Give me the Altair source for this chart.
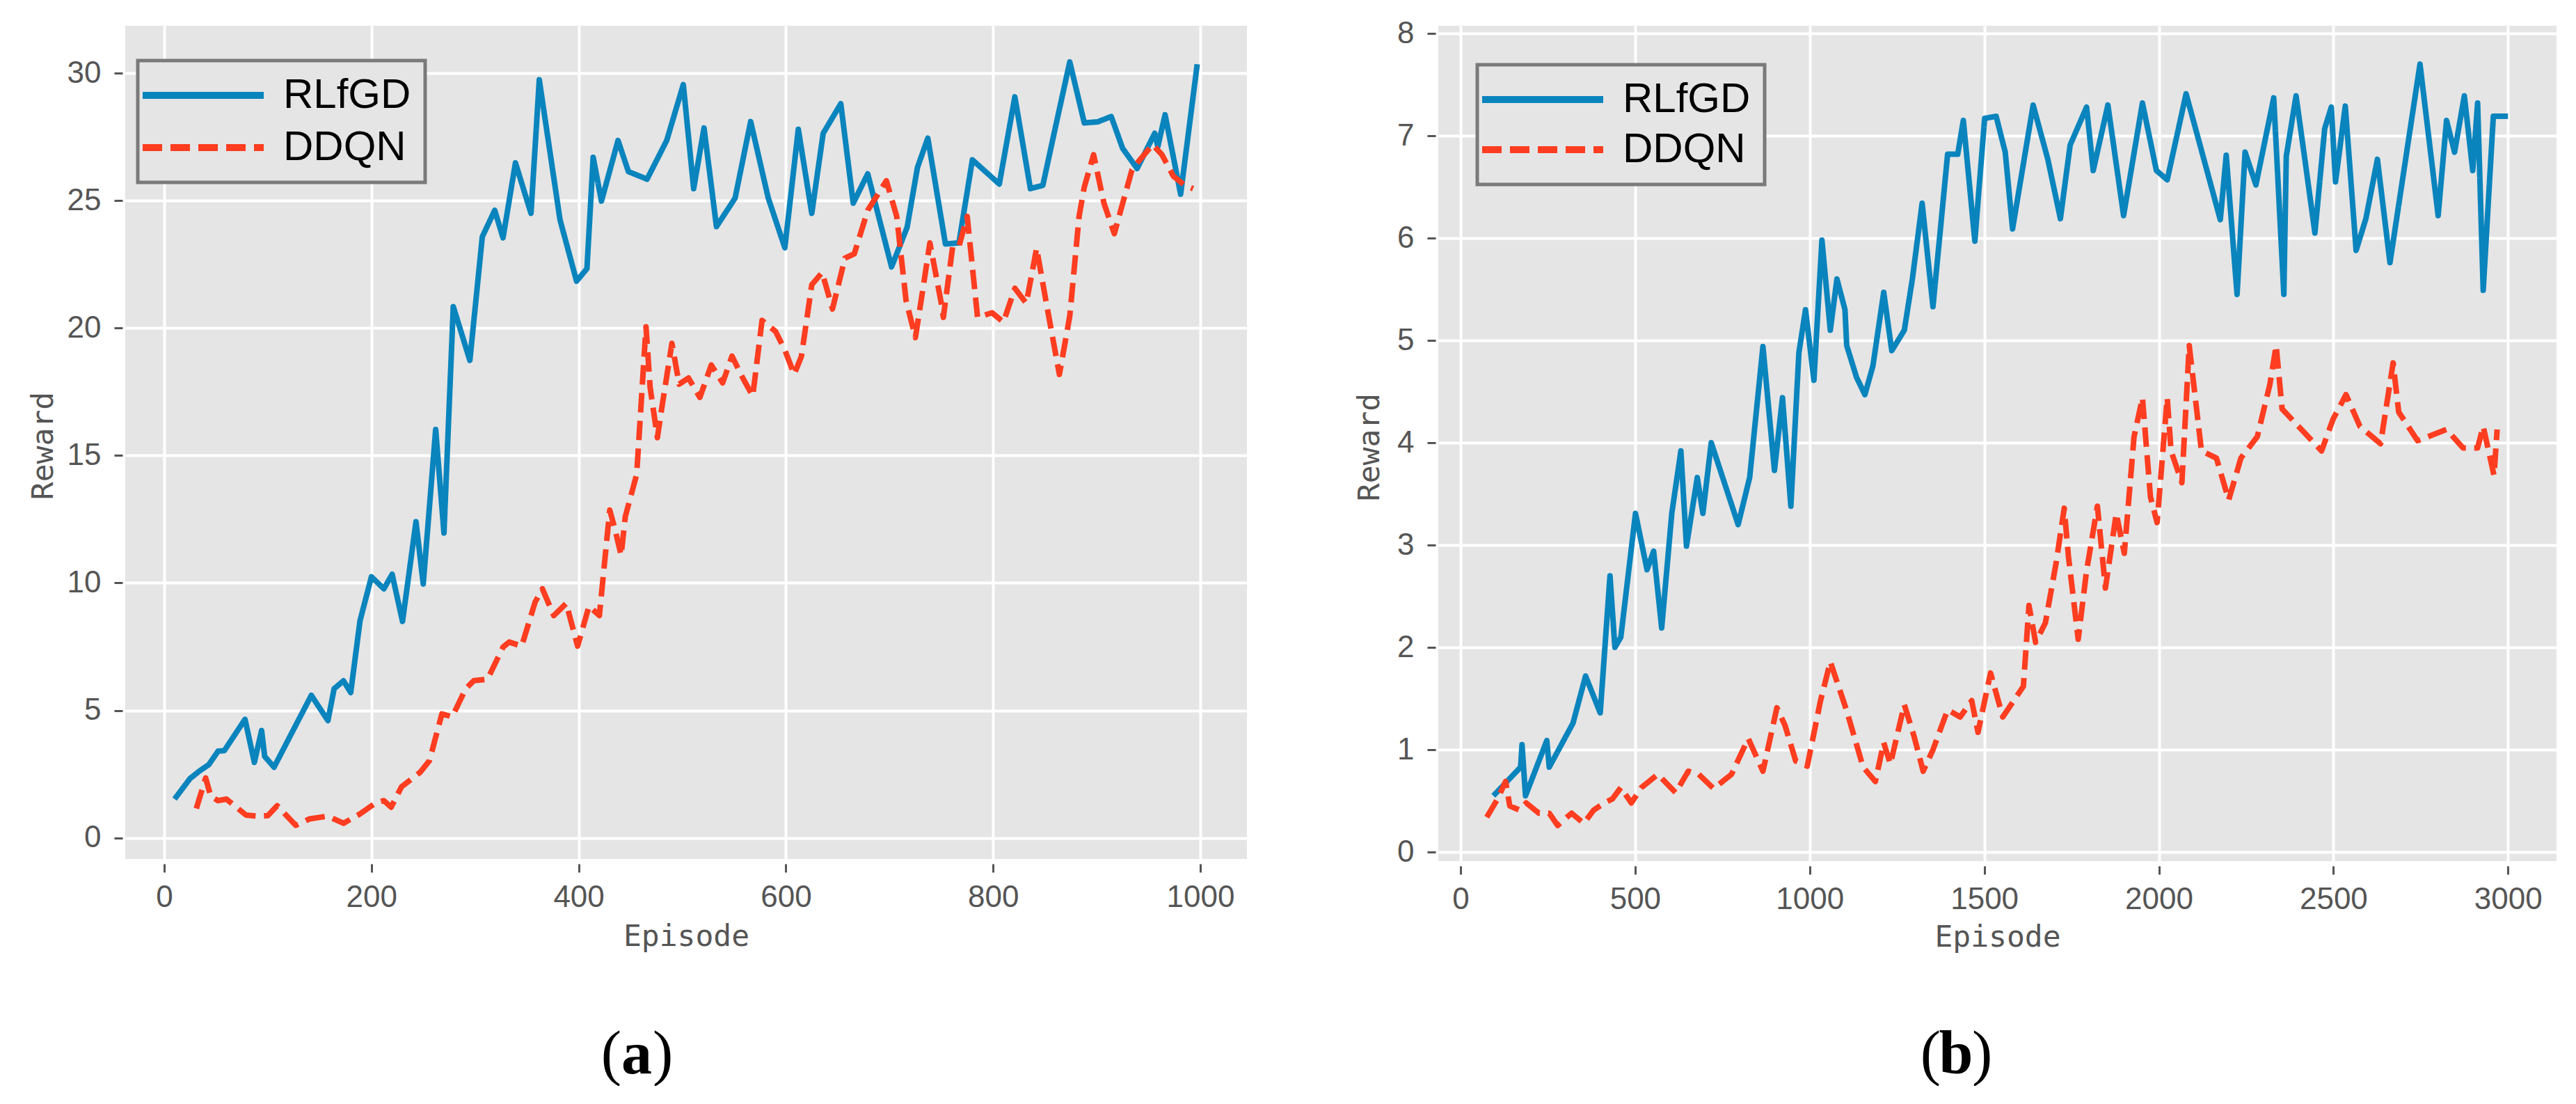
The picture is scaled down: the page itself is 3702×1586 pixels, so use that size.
import altair as alt
import pandas as pd

# ---------------- Panel (a) data ----------------
a_rl_ep = [10, 25, 35, 43, 52, 58, 78, 87, 94, 97, 106, 126, 142, 158, 164, 173, 180, 189, 200, 212,
           220, 230, 243, 250, 262, 270, 279, 295, 307, 319, 327, 339, 354, 362, 382, 398, 408, 414, 422, 438,
           448, 466, 485, 501, 511, 521, 533, 551, 566, 583, 599, 612, 625, 636, 653, 665, 679, 702, 717, 727,
           737, 754, 767, 780, 806, 821, 836, 848, 860, 874, 888, 901, 914, 925, 939, 956, 959, 966, 981, 997]
a_rl_val = [1.52, 2.33, 2.65, 2.87, 3.40, 3.42, 4.65, 2.96, 4.21, 3.19, 2.77, 4.34, 5.59, 4.60, 5.85, 6.16, 5.70, 8.52, 10.24, 9.77,
            10.34, 8.49, 12.40, 9.96, 16.02, 11.96, 20.84, 18.73, 23.58, 24.62, 23.54, 26.48, 24.50, 29.74, 24.25, 21.84, 22.33, 26.70, 24.98, 27.36,
            26.14, 25.84, 27.36, 29.55, 25.47, 27.85, 23.98, 25.10, 28.10, 25.10, 23.15, 27.80, 24.50, 27.64, 28.80, 24.90, 26.05, 22.40, 23.95, 26.30,
            27.45, 23.30, 23.34, 26.60, 25.65, 29.07, 25.47, 25.60, 27.85, 30.44, 28.05, 28.09, 28.30, 27.05, 26.26, 27.64, 27.12, 28.37, 25.25, 30.35]

a_dd_ep = [31, 40, 45, 52, 60, 79, 91, 100, 109, 127, 140, 158, 173, 189, 204, 212, 219, 229, 247, 256,
           268, 278, 291, 299, 312, 327, 333, 345, 358, 365, 376, 388, 399, 410, 420, 430, 435, 441, 445, 456,
           465, 469, 476, 480, 490, 497, 506, 517, 528, 539, 548, 557, 568, 577, 590, 599, 608, 615, 625, 635,
           645, 657, 666, 679, 697, 707, 716, 725, 731, 739, 750, 752, 761, 767, 775, 785, 799, 810, 821, 832,
           842, 852, 864, 874, 883, 888, 897, 907, 917, 924, 934, 941, 954, 963, 974, 985, 993]
a_dd_val = [1.15, 2.35, 1.62, 1.46, 1.52, 0.89, 0.85, 0.87, 1.26, 0.49, 0.74, 0.85, 0.57, 0.94, 1.37, 1.46, 1.20, 2.00, 2.57, 3.03,
            4.86, 4.75, 5.85, 6.17, 6.22, 7.48, 7.68, 7.52, 9.25, 9.77, 8.72, 9.20, 7.52, 9.09, 8.72, 12.86, 12.12, 11.08, 12.60, 14.26,
            20.05, 17.67, 15.70, 16.80, 19.40, 17.80, 18.04, 17.28, 18.55, 17.85, 18.90, 18.15, 17.33, 20.30, 19.87, 19.14, 18.18, 18.89, 21.70, 22.18,
            20.75, 22.74, 22.91, 24.62, 25.78, 24.38, 21.08, 19.63, 21.20, 23.34, 20.97, 20.42, 23.20, 23.20, 24.38, 20.42, 20.60, 20.23, 21.56, 20.97,
            23.13, 20.84, 18.18, 20.47, 24.38, 25.53, 26.80, 24.90, 23.70, 24.74, 26.20, 26.57, 27.20, 26.80, 25.96, 25.60, 25.47]

# ---------------- Panel (b) data ----------------
b_rl_ep = [94, 172, 176, 186, 247, 254, 322, 358, 400, 428, 442, 459, 501, 534, 553, 576, 605, 631, 647, 678,
           694, 718, 795, 828, 866, 899, 922, 946, 969, 988, 1012, 1035, 1059, 1078, 1101, 1106, 1134, 1158, 1181, 1212,
           1235, 1271, 1294, 1322, 1353, 1395, 1424, 1440, 1473, 1501, 1534, 1560, 1581, 1640, 1682, 1718, 1746, 1793, 1812, 1854,
           1899, 1953, 1993, 2024, 2078, 2176, 2193, 2224, 2247, 2278, 2329, 2358, 2365, 2393, 2419, 2447, 2475, 2494, 2506, 2534,
           2565, 2593, 2626, 2662, 2748, 2800, 2824, 2847, 2875, 2899, 2913, 2929, 2958, 3000]
b_rl_val = [0.55, 0.83, 1.05, 0.55, 1.09, 0.83, 1.26, 1.72, 1.36, 2.70, 2.00, 2.10, 3.31, 2.76, 2.94, 2.19, 3.31, 3.92, 2.99, 3.66,
            3.31, 4.00, 3.20, 3.66, 4.94, 3.73, 4.44, 3.38, 4.88, 5.30, 4.61, 5.98, 5.10, 5.60, 5.30, 4.95, 4.64, 4.47, 4.75, 5.47,
            4.90, 5.10, 5.60, 6.34, 5.33, 6.82, 6.82, 7.15, 5.97, 7.17, 7.19, 6.84, 6.09, 7.30, 6.77, 6.19, 6.91, 7.28, 6.66, 7.30,
            6.22, 7.32, 6.66, 6.57, 7.41, 6.18, 6.81, 5.45, 6.84, 6.52, 7.37, 5.45, 6.80, 7.39, 6.75, 6.05, 7.07, 7.28, 6.55, 7.29,
            5.88, 6.19, 6.77, 5.76, 7.70, 6.22, 7.15, 6.84, 7.39, 6.66, 7.32, 5.49, 7.19, 7.19]

b_dd_ep = [75, 106, 129, 141, 169, 188, 224, 254, 278, 318, 353, 381, 412, 435, 459, 489, 518, 565, 616, 652,
           682, 725, 776, 824, 866, 906, 929, 960, 993, 1031, 1059, 1106, 1153, 1188, 1212, 1231, 1271, 1299, 1325, 1353,
           1395, 1431, 1464, 1482, 1518, 1553, 1612, 1628, 1647, 1675, 1706, 1729, 1741, 1769, 1793, 1824, 1847, 1878, 1901, 1929,
           1953, 1976, 1995, 2024, 2035, 2066, 2087, 2122, 2165, 2200, 2235, 2282, 2318, 2336, 2353, 2400, 2466, 2499, 2536, 2576,
           2635, 2671, 2687, 2741, 2824, 2871, 2913, 2929, 2960, 2969]
b_dd_val = [0.34, 0.52, 0.69, 0.45, 0.41, 0.48, 0.38, 0.38, 0.26, 0.38, 0.28, 0.41, 0.48, 0.52, 0.63, 0.48, 0.63, 0.76, 0.58, 0.79,
            0.76, 0.62, 0.76, 1.11, 0.79, 1.41, 1.24, 0.89, 0.84, 1.48, 1.86, 1.38, 0.83, 0.69, 1.07, 0.86, 1.44, 1.13, 0.79, 1.00,
            1.39, 1.32, 1.48, 1.17, 1.75, 1.32, 1.62, 2.41, 2.05, 2.24, 2.83, 3.36, 2.89, 2.08, 2.75, 3.38, 2.58, 3.31, 2.92, 4.06,
            4.44, 3.47, 3.22, 4.44, 3.92, 3.61, 4.95, 3.92, 3.85, 3.44, 3.85, 4.06, 4.57, 4.95, 4.33, 4.16, 3.92, 4.23, 4.47, 4.16,
            3.99, 4.78, 4.30, 4.02, 4.13, 3.95, 3.95, 4.16, 3.68, 4.13]

methods = ["RLfGD", "DDQN"]
a_xticks = [0, 200, 400, 600, 800, 1000]
a_yticks = [0, 5, 10, 15, 20, 25, 30]
b_xticks = [0, 500, 1000, 1500, 2000, 2500, 3000]
b_yticks = [0, 1, 2, 3, 4, 5, 6, 7, 8]

BLUE = "#0A84BD"
RED = "#FF3D20"
GRAY_TXT = "#555555"


def panel(rl_ep, rl_val, dd_ep, dd_val, xdom, ydom, xticks, yticks, w, h,
          lx, ly, row_pad, ytx, yty, xty, letter, letter_x, extra=None):
    df = pd.DataFrame({
        "Episode": rl_ep + dd_ep,
        "Reward": rl_val + dd_val,
        "Method": [methods[0]] * len(rl_ep) + [methods[1]] * len(dd_ep),
    })
    leg = alt.Legend(
        title=None, orient="none", legendX=lx, legendY=ly,
        symbolType="M-4.35,0H4.35", symbolSize=1600, symbolStrokeWidth=10,
        symbolOffset=44,
        labelFont="Liberation Sans", labelFontSize=60, labelColor="black",
        labelOffset=85, labelLimit=600, padding=20, rowPadding=row_pad,
        fillColor="#E5E5E5", strokeColor="#7A7A7A",
    )
    lines = alt.Chart(df).mark_line(strokeWidth=8, strokeJoin="round").encode(
        x=alt.X("Episode:Q",
                scale=alt.Scale(domain=xdom, nice=False, zero=False),
                axis=alt.Axis(values=xticks, format="d", title="Episode",
                              titleX=w / 2, titleY=xty, titleBaseline="alphabetic",
                              titleAlign="center",
                              offset=7, tickSize=12, labelPadding=14)),
        y=alt.Y("Reward:Q",
                scale=alt.Scale(domain=ydom, nice=False, zero=False),
                axis=alt.Axis(values=yticks, format="d", title="Reward",
                              titleX=ytx, titleY=yty, titleAngle=-90,
                              titleBaseline="middle", titleAlign="center",
                              offset=4, tickSize=12, labelPadding=19)),
        color=alt.Color("Method:N", scale=alt.Scale(domain=methods, range=[BLUE, RED]), legend=leg),
        strokeDash=alt.StrokeDash("Method:N",
                                  scale=alt.Scale(domain=methods, range=[[1, 0], [28, 12]]),
                                  legend=leg),
    )
    one = pd.DataFrame({"k": [0]})
    lab_mid = alt.Chart(one).mark_text(
        text=letter, font="Liberation Serif", fontSize=88, fontWeight="bold",
        align="center", baseline="alphabetic", color="black"
    ).encode(x=alt.value(letter_x), y=alt.value(1505))
    lab_l = alt.Chart(one).mark_text(
        text="(", font="Liberation Serif", fontSize=88,
        align="right", baseline="alphabetic", color="black"
    ).encode(x=alt.value(letter_x - 22), y=alt.value(1505))
    lab_r = alt.Chart(one).mark_text(
        text=")", font="Liberation Serif", fontSize=88,
        align="left", baseline="alphabetic", color="black"
    ).encode(x=alt.value(letter_x + 23), y=alt.value(1505))
    layers = [lines, lab_l, lab_mid, lab_r]
    if extra is not None:
        layers.append(extra)
    return alt.layer(*layers).properties(width=w, height=h)


# invisible anchor that fixes the top-left extent of the page
anchor = alt.Chart(pd.DataFrame({"k": [0]})).mark_rect(opacity=0).encode(
    x=alt.value(-172), x2=alt.value(-171), y=alt.value(-29), y2=alt.value(-28))

pa = panel(a_rl_ep, a_rl_val, a_dd_ep, a_dd_val,
           [-37.6, 1045], [-0.83, 31.86], a_xticks, a_yticks, 1612, 1197,
           18, 50, 15, -114, 603, 117, "a", 735, extra=anchor)
pb = panel(b_rl_ep, b_rl_val, b_dd_ep, b_dd_val,
           [-63.8, 3139], [-0.088, 8.075], b_xticks, b_yticks, 1607, 1200,
           56, 56, 12, -95, 605, 115, "b", 744)

chart = alt.hconcat(pa, pb, spacing=275, bounds="flush").resolve_scale(
    color="independent", strokeDash="independent", x="independent", y="independent"
).resolve_legend(
    color="independent", strokeDash="independent"
).properties(padding=0).configure_view(
    fill="#E5E5E5", stroke=None
).configure_axis(
    grid=True, gridColor="white", gridWidth=4, domain=False,
    tickColor=GRAY_TXT, tickWidth=3,
    labelColor=GRAY_TXT, labelFont="Liberation Sans", labelFontSize=44,
    titleFont="DejaVu Sans Mono", titleFontSize=43, titleColor=GRAY_TXT,
    titleFontWeight="normal"
).configure_legend(
    strokeWidth=5
)

chart.save("out.html", embed_options={"renderer": "svg", "actions": False})
